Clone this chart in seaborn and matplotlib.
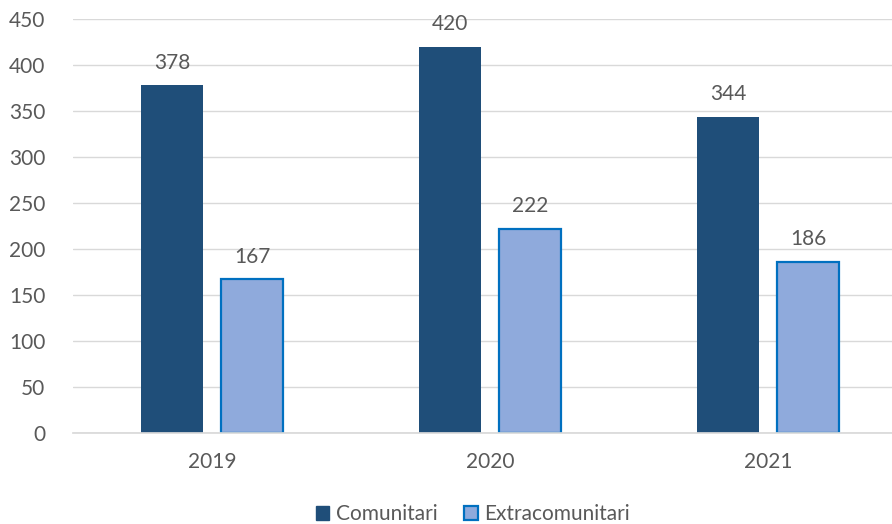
import matplotlib
matplotlib.use("Agg")
import matplotlib.pyplot as plt
import seaborn as sns
import pandas as pd
from matplotlib.patches import Patch

years = ["2019", "2020", "2021"]
series = ["Comunitari", "Extracomunitari"]
comunitari = [378, 420, 344]
extracomunitari = [167, 222, 186]

df = pd.DataFrame({
    "anno": years * 2,
    "tipo": [series[0]] * 3 + [series[1]] * 3,
    "valore": comunitari + extracomunitari,
})

sns.set_theme(style="white")
plt.rcParams["font.family"] = ["Lato", "DejaVu Sans"]
txt = "#595959"
fs = 15

fig = plt.figure(figsize=(8.92, 5.24), dpi=100)
ax = fig.add_axes([73 / 892, 1 - 433 / 524, 1 - 73 / 892, (433 - 19) / 524])

palette = {series[0]: "#1F4E79", series[1]: "#8FAADC"}
sns.barplot(data=df, x="anno", y="valore", hue="tipo", hue_order=series,
            palette=palette, width=0.576, gap=0.226, ax=ax, legend=False,
            saturation=1, errorbar=None)

for cont, name in zip(ax.containers, series):
    for bar in cont:
        if name == series[1]:
            bar.set_edgecolor("#0070C0")
            bar.set_linewidth(1.6)
        else:
            bar.set_linewidth(0)
    ax.bar_label(cont, padding=9, fontsize=fs, color=txt)

ax.set_ylim(0, 450)
ax.set_yticks(range(0, 451, 50))
ax.set_xlim(-0.5, 2.446)
ax.yaxis.grid(True, color="#D9D9D9", linewidth=1)
ax.set_axisbelow(True)
for s in ["top", "right", "left"]:
    ax.spines[s].set_visible(False)
ax.spines["bottom"].set_color("#D9D9D9")
ax.tick_params(axis="both", colors=txt, labelsize=fs, length=0)
ax.tick_params(axis="y", pad=20)
ax.tick_params(axis="x", pad=14)
ax.set_xlabel("")
ax.set_ylabel("")

handles = [Patch(facecolor="#1F4E79", edgecolor="#1F4E79"),
           Patch(facecolor="#8FAADC", edgecolor="#0070C0", linewidth=1.6)]
fig.legend(handles, series, loc="center", bbox_to_anchor=(0.53, 1 - 514 / 524),
           ncol=2, frameon=False, fontsize=fs, labelcolor=txt,
           handlelength=0.65, handleheight=0.65, handletextpad=0.3, columnspacing=1.3)

fig.savefig("out.png", dpi=100)
